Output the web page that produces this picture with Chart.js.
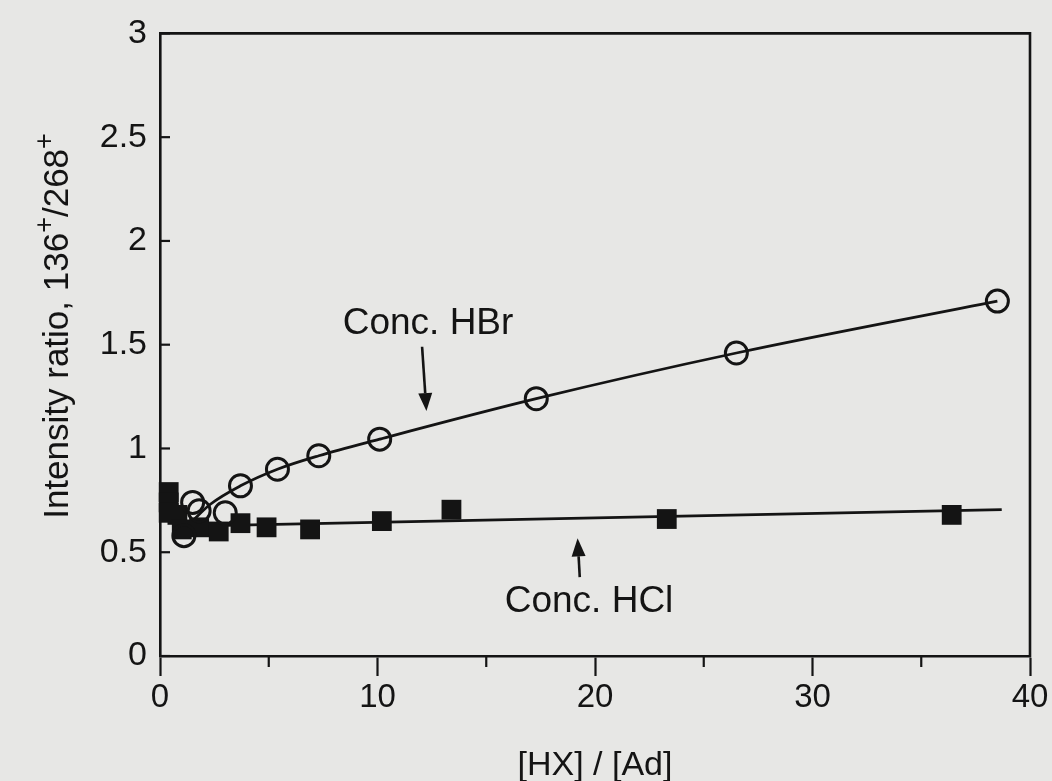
<!DOCTYPE html>
<html>
<head>
<meta charset="utf-8">
<script src="https://cdn.jsdelivr.net/npm/chart.js@4.4.1/dist/chart.umd.min.js"></script>
<style>
  html, body { margin: 0; padding: 0; background: #e7e7e5; }
  #wrap { width: 1052px; height: 781px; position: relative; }
</style>
</head>
<body>
<div id="wrap"><canvas id="c" width="1052" height="781"></canvas></div>
<script>
// ---- data ----
const hbrX = [1.1, 1.5, 1.8, 3.0, 3.7, 5.4, 7.3, 10.1, 17.3, 26.5, 38.5];
const hbrY = [0.58, 0.74, 0.70, 0.69, 0.82, 0.90, 0.965, 1.045, 1.24, 1.46, 1.71];
const hbrFitX = [1.3, 2.3, 3.7, 5.4, 7.3, 10.1, 17.3, 26.5, 38.5];
const hbrFitY = [0.63, 0.73, 0.82, 0.90, 0.965, 1.045, 1.24, 1.46, 1.71];
const hclX = [0.4, 0.4, 0.4, 0.8, 1.0, 1.8, 2.7, 3.7, 4.9, 6.9, 10.2, 13.4, 23.3, 36.4];
const hclY = [0.79, 0.74, 0.69, 0.68, 0.61, 0.62, 0.60, 0.64, 0.62, 0.61, 0.65, 0.705, 0.66, 0.68];
const hclFitX = [0.8, 38.7];
const hclFitY = [0.625, 0.705];
const xMajorTicks = [0, 10, 20, 30, 40];
const xMinorTicks = [5, 15, 25, 35];
const yTicks = [0, 0.5, 1, 1.5, 2, 2.5, 3];

const INK = '#141414';
const FONT = '"Liberation Sans", Arial, Helvetica, sans-serif';

function pts(xs, ys) { return xs.map((x, i) => ({ x: x, y: ys[i] })); }

const decor = {
  id: 'decor',
  afterDraw(chart) {
    const ctx = chart.ctx;
    const xs = chart.scales.x, ys = chart.scales.y;
    const a = chart.chartArea;
    ctx.save();
    ctx.strokeStyle = INK;
    ctx.fillStyle = INK;
    ctx.lineCap = 'butt';
    // top and right frame
    ctx.lineWidth = 2.6;
    ctx.beginPath();
    ctx.moveTo(a.left - 1, a.top);
    ctx.lineTo(a.right, a.top);
    ctx.lineTo(a.right, a.bottom + 1);
    ctx.stroke();
    // minor x ticks (outward)
    ctx.lineWidth = 2.2;
    xMinorTicks.forEach(v => {
      const px = xs.getPixelForValue(v);
      ctx.beginPath();
      ctx.moveTo(px, a.bottom);
      ctx.lineTo(px, a.bottom + 11);
      ctx.stroke();
    });
    // inward y ticks
    yTicks.forEach(v => {
      const py = ys.getPixelForValue(v);
      ctx.beginPath();
      ctx.moveTo(a.left, py);
      ctx.lineTo(a.left + 10, py);
      ctx.stroke();
    });
    // annotations
    ctx.font = '37px ' + FONT;
    ctx.textBaseline = 'alphabetic';
    ctx.textAlign = 'left';
    ctx.fillText('Conc. HBr', xs.getPixelForValue(8.4), ys.getPixelForValue(1.553));
    ctx.fillText('Conc. HCl', xs.getPixelForValue(15.85), ys.getPixelForValue(0.212));
    function arrow(x1, y1, x2, y2) {
      const p1 = { x: xs.getPixelForValue(x1), y: ys.getPixelForValue(y1) };
      const p2 = { x: xs.getPixelForValue(x2), y: ys.getPixelForValue(y2) };
      const ang = Math.atan2(p2.y - p1.y, p2.x - p1.x);
      const hl = 18, hw = 7;
      const bx = p2.x - hl * Math.cos(ang), by = p2.y - hl * Math.sin(ang);
      ctx.lineWidth = 2.6;
      ctx.beginPath();
      ctx.moveTo(p1.x, p1.y);
      ctx.lineTo(bx, by);
      ctx.stroke();
      ctx.beginPath();
      ctx.moveTo(p2.x, p2.y);
      ctx.lineTo(bx + hw * Math.sin(ang), by - hw * Math.cos(ang));
      ctx.lineTo(bx - hw * Math.sin(ang), by + hw * Math.cos(ang));
      ctx.closePath();
      ctx.fill();
    }
    arrow(12.05, 1.49, 12.25, 1.18);
    arrow(19.3, 0.38, 19.2, 0.567);
    // y axis title with superscripts
    const parts = [
      ['Intensity ratio, 136', 35, 0],
      ['+', 27, 15],
      ['/268', 35, 0],
      ['+', 27, 15]
    ];
    let total = 0;
    parts.forEach(p => { ctx.font = p[1] + 'px ' + FONT; total += ctx.measureText(p[0]).width; });
    ctx.translate(68, 326);
    ctx.rotate(-Math.PI / 2);
    let cx = -total / 2;
    parts.forEach(p => {
      ctx.font = p[1] + 'px ' + FONT;
      ctx.fillText(p[0], cx, -p[2]);
      cx += ctx.measureText(p[0]).width;
    });
    ctx.restore();
  }
};

new Chart(document.getElementById('c'), {
  type: 'scatter',
  plugins: [decor],
  data: {
    datasets: [
      {
        label: 'HCl fit', data: pts(hclFitX, hclFitY), showLine: true,
        borderColor: INK, borderWidth: 2.8, pointRadius: 0, fill: false, clip: false, order: 4
      },
      {
        label: 'HBr fit', data: pts(hbrFitX, hbrFitY), showLine: true,
        borderColor: INK, borderWidth: 2.8, pointRadius: 0, fill: false,
        cubicInterpolationMode: 'monotone', clip: false, order: 3
      },
      {
        label: 'Conc. HCl', data: pts(hclX, hclY), showLine: false,
        pointStyle: 'rect', pointRadius: 14, pointBackgroundColor: INK,
        pointBorderColor: INK, pointBorderWidth: 0, clip: false, order: 2
      },
      {
        label: 'Conc. HBr', data: pts(hbrX, hbrY), showLine: false,
        pointStyle: 'circle', pointRadius: 11, pointBackgroundColor: 'rgba(0,0,0,0)',
        pointBorderColor: INK, pointBorderWidth: 3, clip: false, order: 1
      }
    ]
  },
  options: {
    responsive: false,
    animation: false,
    events: [],
    layout: { padding: { left: 0, right: 22, top: 31, bottom: 0 } },
    plugins: { legend: { display: false }, tooltip: { enabled: false } },
    scales: {
      x: {
        type: 'linear', min: 0, max: 40,
        afterBuildTicks: (s) => { s.ticks = xMajorTicks.map(v => ({ value: v })); },
        afterFit: (s) => { s.height = 125; },
        ticks: { color: INK, font: { family: FONT, size: 33 }, padding: 2, maxRotation: 0 },
        grid: { display: true, drawOnChartArea: false, drawTicks: true, tickLength: 20, tickWidth: 2.2, tickColor: INK },
        border: { display: true, color: INK, width: 2.6 },
        title: { display: true, text: '[HX] / [Ad]', color: INK, font: { family: FONT, size: 34 }, padding: { top: 0, bottom: -5 } }
      },
      y: {
        type: 'linear', min: 0, max: 3,
        afterBuildTicks: (s) => { s.ticks = yTicks.map(v => ({ value: v })); },
        afterFit: (s) => { s.width = 160; },
        ticks: { color: INK, font: { family: FONT, size: 34 }, padding: 13,
                 callback: (v) => String(v) },
        grid: { display: true, drawOnChartArea: false, drawTicks: false },
        border: { display: true, color: INK, width: 2.6 }
      }
    }
  }
});
</script>
</body>
</html>
